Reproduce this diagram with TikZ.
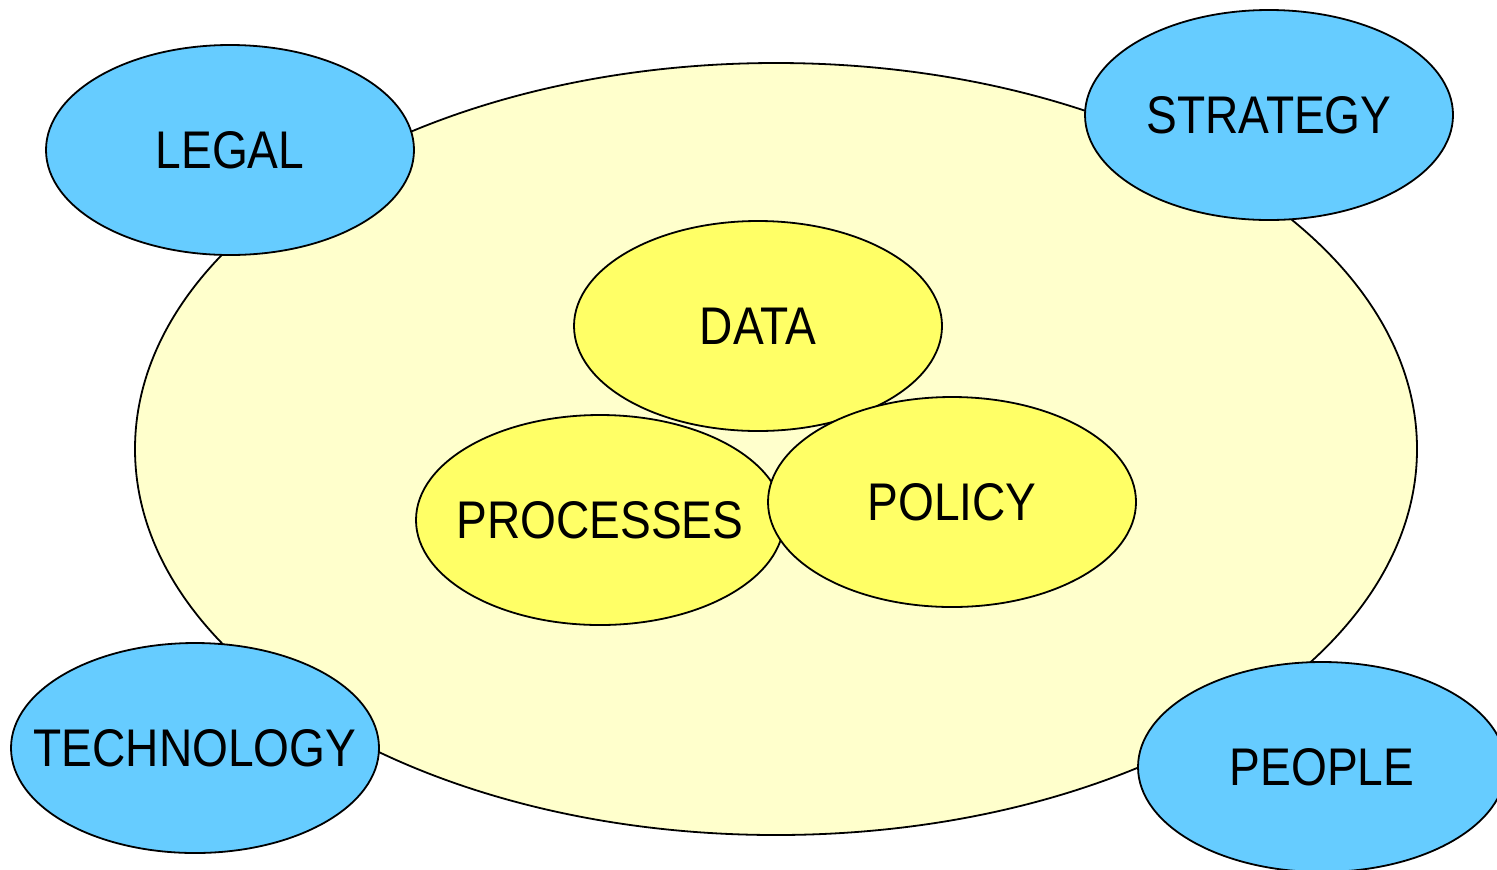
\documentclass[tikz,border=0pt]{standalone}
\usepackage{fontspec}
\setmainfont[FakeStretch=0.87]{Liberation Sans}
\usetikzlibrary{shapes.geometric}

\definecolor{fieldfill}{HTML}{FFFFCC}
\definecolor{corefill}{HTML}{FFFF66}
\definecolor{ringfill}{HTML}{66CCFF}

\begin{document}
\begin{tikzpicture}[
    x=0.5pt, y=-0.5pt,
    blob/.style={
        ellipse,
        draw=black, line width=0.9pt,
        inner xsep=-20pt, inner ysep=0pt,
        text centered,
        font=\fontsize{26.5}{30}\selectfont,
        minimum width=184pt,
        minimum height=105pt
    },
    core/.style={blob, fill=corefill},
    ring/.style={blob, fill=ringfill}
]

\useasboundingbox (0,0) rectangle (1497,869);
\clip (0,0) rectangle (1497,869);

\node[ellipse, draw=black, line width=0.9pt, fill=fieldfill,
      minimum width=641pt, minimum height=386pt] (field) at (776,449) {};

\node[core] (processes) at (600,520) {PROCESSES};
\node[core] (data) at (758,326) {DATA};
\node[core] (policy) at (952,502) {POLICY};

\node[ring] (legal) at (230,150) {LEGAL};
\node[ring] (strategy) at (1269,115) {STRATEGY};
\node[ring] (technology) at (195,748) {TECHNOLOGY};
\node[ring] (people) at (1322,767) {PEOPLE};

\end{tikzpicture}
\end{document}
